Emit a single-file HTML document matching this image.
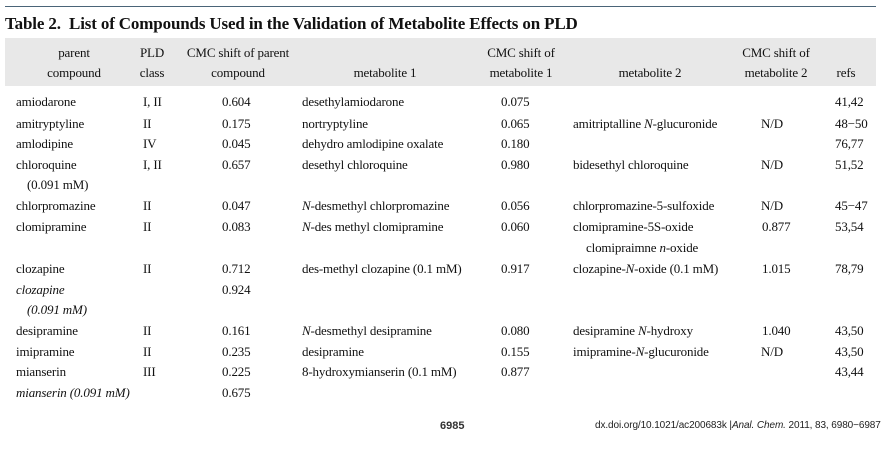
<!DOCTYPE html>
<html><head><meta charset="utf-8"><style>
body{margin:0;width:884px;height:458px;background:#fff;position:relative;overflow:hidden;font-family:"Liberation Serif",serif;color:#111}
.t{position:absolute;font-size:13px;line-height:14px;white-space:nowrap;transform:translateY(-7px);letter-spacing:-0.15px}
.c{text-align:center;transform:translate(-50%,-7px)}
i{font-style:italic}
</style></head><body>
<div style="position:absolute;left:5px;top:6px;width:871px;height:1px;background:#4a6478"></div>
<div style="position:absolute;left:5px;top:14px;font-weight:bold;font-size:17px;line-height:20px;letter-spacing:-0.15px">Table 2.&nbsp; List of Compounds Used in the Validation of Metabolite Effects on PLD</div>
<div style="position:absolute;left:5px;top:38px;width:871px;height:48px;background:#e8e8e8"></div>
<div class="t c" style="left:74px;top:53px">parent</div>
<div class="t c" style="left:74px;top:73px">compound</div>
<div class="t c" style="left:152px;top:53px">PLD</div>
<div class="t c" style="left:152px;top:73px">class</div>
<div class="t c" style="left:238px;top:53px">CMC shift of parent</div>
<div class="t c" style="left:238px;top:73px">compound</div>
<div class="t c" style="left:385px;top:73px">metabolite 1</div>
<div class="t c" style="left:521px;top:53px">CMC shift of</div>
<div class="t c" style="left:521px;top:73px">metabolite 1</div>
<div class="t c" style="left:650px;top:73px">metabolite 2</div>
<div class="t c" style="left:776px;top:53px">CMC shift of</div>
<div class="t c" style="left:776px;top:73px">metabolite 2</div>
<div class="t c" style="left:846px;top:73px">refs</div>

<div class="t" style="left:16px;top:102px">amiodarone</div><div class="t" style="left:143px;top:102px">I, II</div><div class="t" style="left:222px;top:102px">0.604</div><div class="t" style="left:302px;top:102px">desethylamiodarone</div><div class="t" style="left:501px;top:102px">0.075</div><div class="t" style="left:835px;top:102px">41,42</div>

<div class="t" style="left:16px;top:124px">amitryptyline</div><div class="t" style="left:143px;top:124px">II</div><div class="t" style="left:222px;top:124px">0.175</div><div class="t" style="left:302px;top:124px">nortryptyline</div><div class="t" style="left:501px;top:124px">0.065</div><div class="t" style="left:573px;top:124px">amitriptalline <i>N</i>-glucuronide</div><div class="t" style="left:761px;top:124px">N/D</div><div class="t" style="left:835px;top:124px">48−50</div>

<div class="t" style="left:16px;top:144px">amlodipine</div><div class="t" style="left:143px;top:144px">IV</div><div class="t" style="left:222px;top:144px">0.045</div><div class="t" style="left:302px;top:144px">dehydro amlodipine oxalate</div><div class="t" style="left:501px;top:144px">0.180</div><div class="t" style="left:835px;top:144px">76,77</div>

<div class="t" style="left:16px;top:165px">chloroquine</div><div class="t" style="left:143px;top:165px">I, II</div><div class="t" style="left:222px;top:165px">0.657</div><div class="t" style="left:302px;top:165px">desethyl chloroquine</div><div class="t" style="left:501px;top:165px">0.980</div><div class="t" style="left:573px;top:165px">bidesethyl chloroquine</div><div class="t" style="left:761px;top:165px">N/D</div><div class="t" style="left:835px;top:165px">51,52</div>
<div class="t" style="left:27px;top:185px">(0.091 mM)</div>

<div class="t" style="left:16px;top:206px">chlorpromazine</div><div class="t" style="left:143px;top:206px">II</div><div class="t" style="left:222px;top:206px">0.047</div><div class="t" style="left:302px;top:206px"><i>N</i>-desmethyl chlorpromazine</div><div class="t" style="left:501px;top:206px">0.056</div><div class="t" style="left:573px;top:206px">chlorpromazine-5-sulfoxide</div><div class="t" style="left:761px;top:206px">N/D</div><div class="t" style="left:835px;top:206px">45−47</div>

<div class="t" style="left:16px;top:227px">clomipramine</div><div class="t" style="left:143px;top:227px">II</div><div class="t" style="left:222px;top:227px">0.083</div><div class="t" style="left:302px;top:227px"><i>N</i>-des methyl clomipramine</div><div class="t" style="left:501px;top:227px">0.060</div><div class="t" style="left:573px;top:227px">clomipramine-5S-oxide</div><div class="t" style="left:762px;top:227px">0.877</div><div class="t" style="left:835px;top:227px">53,54</div>
<div class="t" style="left:586px;top:248px">clomipraimne <i>n</i>-oxide</div>

<div class="t" style="left:16px;top:269px">clozapine</div><div class="t" style="left:143px;top:269px">II</div><div class="t" style="left:222px;top:269px">0.712</div><div class="t" style="left:302px;top:269px">des-methyl clozapine (0.1 mM)</div><div class="t" style="left:501px;top:269px">0.917</div><div class="t" style="left:573px;top:269px">clozapine-<i>N</i>-oxide (0.1 mM)</div><div class="t" style="left:762px;top:269px">1.015</div><div class="t" style="left:835px;top:269px">78,79</div>
<div class="t" style="left:16px;top:290px"><i>clozapine</i></div><div class="t" style="left:222px;top:290px">0.924</div>
<div class="t" style="left:27px;top:310px"><i>(0.091 mM)</i></div>

<div class="t" style="left:16px;top:331px">desipramine</div><div class="t" style="left:143px;top:331px">II</div><div class="t" style="left:222px;top:331px">0.161</div><div class="t" style="left:302px;top:331px"><i>N</i>-desmethyl desipramine</div><div class="t" style="left:501px;top:331px">0.080</div><div class="t" style="left:573px;top:331px">desipramine <i>N</i>-hydroxy</div><div class="t" style="left:762px;top:331px">1.040</div><div class="t" style="left:835px;top:331px">43,50</div>

<div class="t" style="left:16px;top:352px">imipramine</div><div class="t" style="left:143px;top:352px">II</div><div class="t" style="left:222px;top:352px">0.235</div><div class="t" style="left:302px;top:352px">desipramine</div><div class="t" style="left:501px;top:352px">0.155</div><div class="t" style="left:573px;top:352px">imipramine-<i>N</i>-glucuronide</div><div class="t" style="left:761px;top:352px">N/D</div><div class="t" style="left:835px;top:352px">43,50</div>

<div class="t" style="left:16px;top:372px">mianserin</div><div class="t" style="left:143px;top:372px">III</div><div class="t" style="left:222px;top:372px">0.225</div><div class="t" style="left:302px;top:372px">8-hydroxymianserin (0.1 mM)</div><div class="t" style="left:501px;top:372px">0.877</div><div class="t" style="left:835px;top:372px">43,44</div>
<div class="t" style="left:16px;top:393px"><i>mianserin (0.091 mM)</i></div><div class="t" style="left:222px;top:393px">0.675</div>

<div style="position:absolute;left:440px;top:420px;font-family:'Liberation Sans',sans-serif;font-weight:bold;font-size:11px;color:#333">6985</div>
<div style="position:absolute;left:595px;top:420px;font-family:'Liberation Sans',sans-serif;font-size:10px;color:#222;letter-spacing:-0.1px;white-space:nowrap">dx.doi.org/10.1021/ac200683k |<i>Anal. Chem.</i> 2011, 83, 6980−6987</div>
</body></html>
